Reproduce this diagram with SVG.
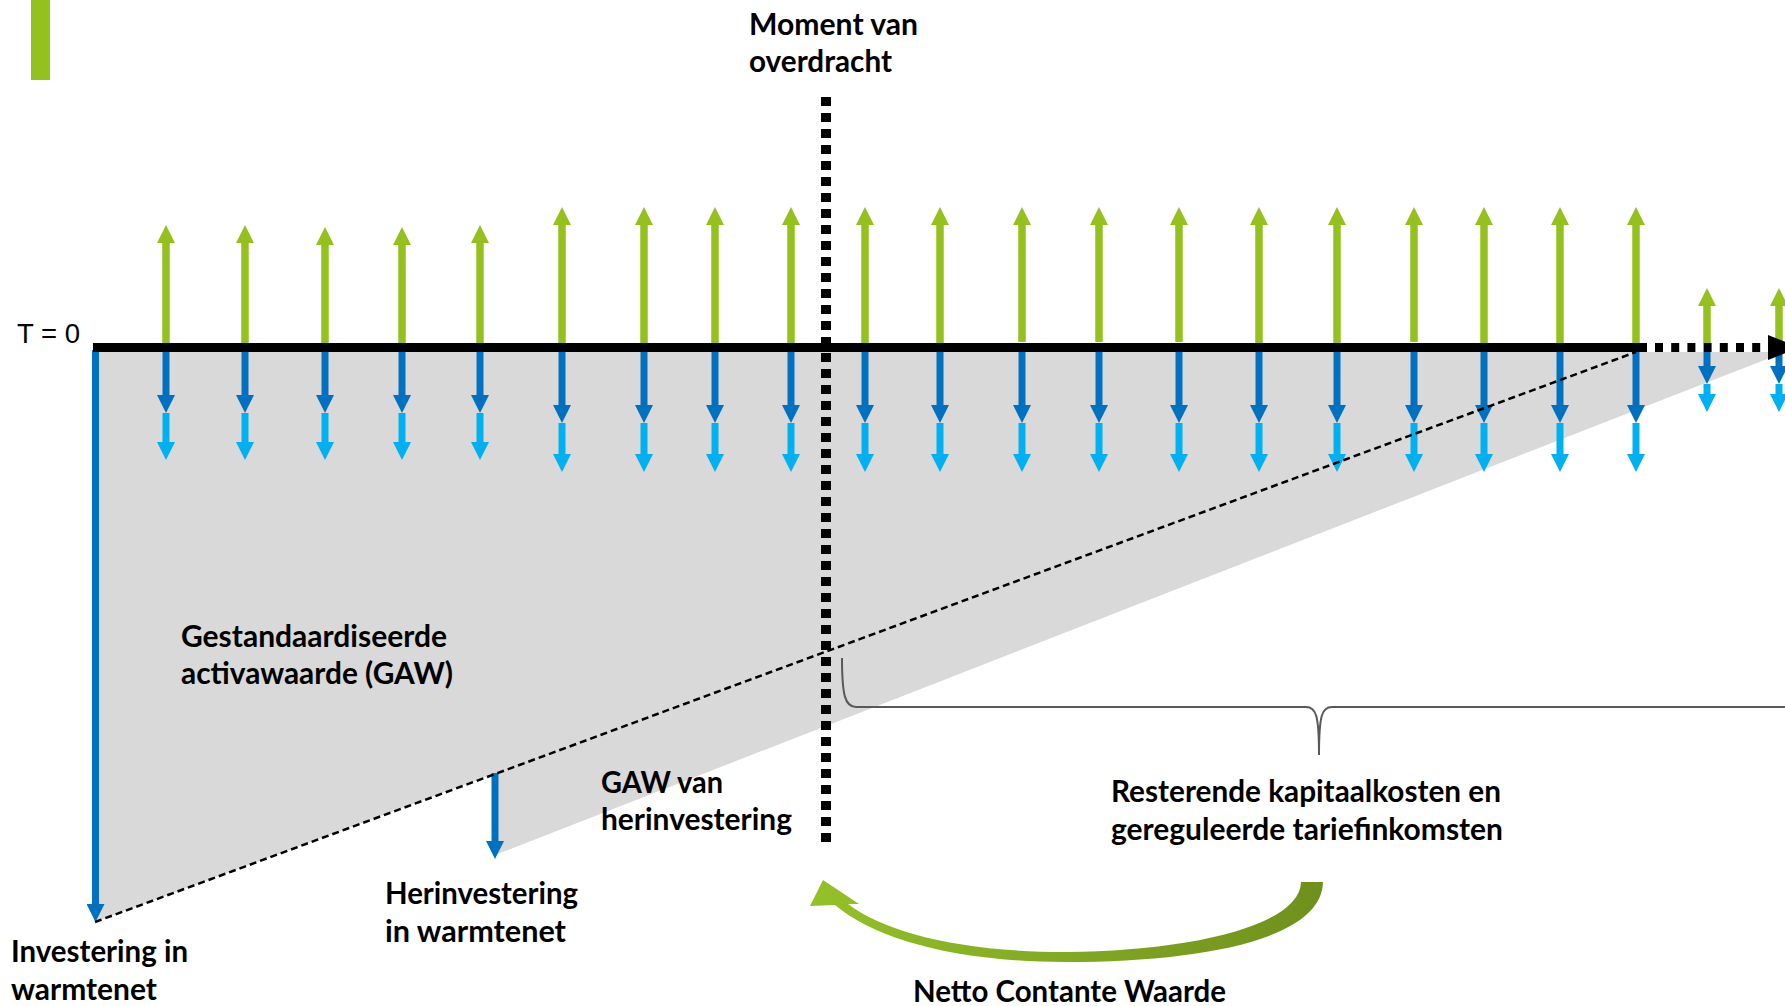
<svg xmlns="http://www.w3.org/2000/svg" width="1785" height="1006" viewBox="0 0 1785 1006">
<style>
.lbl{font-family:Lato,"Liberation Sans",Arial,sans-serif;font-weight:bold;font-size:30px;fill:#000}
.reg{font-family:"Liberation Sans",Arial,sans-serif;font-size:27px;fill:#000}
.g{stroke:#95C11F;stroke-width:7.5;marker-end:url(#hg)}
.d{stroke:#0070C0;stroke-width:7;marker-end:url(#hd)}
.l{stroke:#00B0F0;stroke-width:7;marker-end:url(#hl)}
</style>
<defs>
<marker id="hg" markerUnits="userSpaceOnUse" markerWidth="18" markerHeight="18" refX="0" refY="9" orient="auto" viewBox="0 0 18 18"><path d="M0,0 L18,9 L0,18 Z" fill="#95C11F"/></marker>
<marker id="hd" markerUnits="userSpaceOnUse" markerWidth="18" markerHeight="18" refX="0" refY="9" orient="auto" viewBox="0 0 18 18"><path d="M0,0 L18,9 L0,18 Z" fill="#0070C0"/></marker>
<marker id="hl" markerUnits="userSpaceOnUse" markerWidth="18" markerHeight="18" refX="0" refY="9" orient="auto" viewBox="0 0 18 18"><path d="M0,0 L18,9 L0,18 Z" fill="#00B0F0"/></marker>
<linearGradient id="ga" x1="810" y1="0" x2="1323" y2="0" gradientUnits="userSpaceOnUse">
<stop offset="0" stop-color="#94C127"/>
<stop offset="1" stop-color="#6F901C"/>
</linearGradient>
</defs>
<rect width="1785" height="1006" fill="#fff"/>
<g id="area">
<polygon points="95,352 1785,352 495,855 495,773.6 95,922" fill="#D9D9D9"/>
</g>
<rect id="accent" x="31" y="0" width="19" height="80" fill="#95C11F"/>
<g id="connectors">
<g>
<line class="g" x1="166" y1="343" x2="166" y2="243"/>
<line class="g" x1="245" y1="343" x2="245" y2="243"/>
<line class="g" x1="325" y1="343" x2="325" y2="245"/>
<line class="g" x1="402" y1="343" x2="402" y2="245"/>
<line class="g" x1="480" y1="343" x2="480" y2="243"/>
<line class="g" x1="562" y1="343" x2="562" y2="225"/>
<line class="g" x1="644" y1="343" x2="644" y2="225"/>
<line class="g" x1="715" y1="343" x2="715" y2="225"/>
<line class="g" x1="791" y1="343" x2="791" y2="225"/>
<line class="g" x1="865" y1="343" x2="865" y2="225"/>
<line class="g" x1="940" y1="343" x2="940" y2="225"/>
<line class="g" x1="1022" y1="342" x2="1022" y2="225"/>
<line class="g" x1="1099" y1="342" x2="1099" y2="225"/>
<line class="g" x1="1179" y1="342" x2="1179" y2="225"/>
<line class="g" x1="1259" y1="343" x2="1259" y2="225"/>
<line class="g" x1="1337" y1="343" x2="1337" y2="225"/>
<line class="g" x1="1414" y1="342" x2="1414" y2="225"/>
<line class="g" x1="1484" y1="343" x2="1484" y2="225"/>
<line class="g" x1="1560" y1="343" x2="1560" y2="225"/>
<line class="g" x1="1636" y1="343" x2="1636" y2="225"/>
<line class="g" x1="1707" y1="343" x2="1707" y2="306"/>
<line class="g" x1="1779" y1="343" x2="1779" y2="306"/>
</g>
<g>
<line class="d" x1="166" y1="352" x2="166" y2="395"/>
<line class="d" x1="245" y1="352" x2="245" y2="395"/>
<line class="d" x1="325" y1="352" x2="325" y2="395"/>
<line class="d" x1="402" y1="352" x2="402" y2="395"/>
<line class="d" x1="480" y1="352" x2="480" y2="395"/>
<line class="d" x1="562" y1="352" x2="562" y2="405"/>
<line class="d" x1="644" y1="352" x2="644" y2="405"/>
<line class="d" x1="715" y1="352" x2="715" y2="405"/>
<line class="d" x1="791" y1="352" x2="791" y2="405"/>
<line class="d" x1="865" y1="352" x2="865" y2="405"/>
<line class="d" x1="940" y1="352" x2="940" y2="405"/>
<line class="d" x1="1022" y1="352" x2="1022" y2="405"/>
<line class="d" x1="1099" y1="352" x2="1099" y2="405"/>
<line class="d" x1="1179" y1="352" x2="1179" y2="405"/>
<line class="d" x1="1259" y1="352" x2="1259" y2="405"/>
<line class="d" x1="1337" y1="352" x2="1337" y2="405"/>
<line class="d" x1="1414" y1="352" x2="1414" y2="405"/>
<line class="d" x1="1484" y1="352" x2="1484" y2="405"/>
<line class="d" x1="1560" y1="352" x2="1560" y2="405"/>
<line class="d" x1="1636" y1="352" x2="1636" y2="405"/>
<line class="d" x1="1707" y1="352" x2="1707" y2="366"/>
<line class="d" x1="1779" y1="352" x2="1779" y2="366"/>
</g>
<g>
<line class="l" x1="166" y1="413" x2="166" y2="442"/>
<line class="l" x1="245" y1="413" x2="245" y2="442"/>
<line class="l" x1="325" y1="413" x2="325" y2="442"/>
<line class="l" x1="402" y1="413" x2="402" y2="442"/>
<line class="l" x1="480" y1="413" x2="480" y2="442"/>
<line class="l" x1="562" y1="423" x2="562" y2="454"/>
<line class="l" x1="644" y1="423" x2="644" y2="454"/>
<line class="l" x1="715" y1="423" x2="715" y2="454"/>
<line class="l" x1="791" y1="423" x2="791" y2="454"/>
<line class="l" x1="865" y1="423" x2="865" y2="454"/>
<line class="l" x1="940" y1="423" x2="940" y2="454"/>
<line class="l" x1="1022" y1="423" x2="1022" y2="454"/>
<line class="l" x1="1099" y1="423" x2="1099" y2="454"/>
<line class="l" x1="1179" y1="423" x2="1179" y2="454"/>
<line class="l" x1="1259" y1="423" x2="1259" y2="454"/>
<line class="l" x1="1337" y1="423" x2="1337" y2="454"/>
<line class="l" x1="1414" y1="423" x2="1414" y2="454"/>
<line class="l" x1="1484" y1="423" x2="1484" y2="454"/>
<line class="l" x1="1560" y1="423" x2="1560" y2="454"/>
<line class="l" x1="1636" y1="423" x2="1636" y2="454"/>
<line class="l" x1="1707" y1="384" x2="1707" y2="394"/>
<line class="l" x1="1779" y1="384" x2="1779" y2="394"/>
</g>
<line class="d" x1="95.5" y1="350" x2="95.5" y2="904"/>
<line class="d" x1="495" y1="773" x2="495" y2="841"/>
<line x1="93" y1="347.5" x2="1647" y2="347.5" stroke="#000" stroke-width="9"/>
<line x1="1655" y1="347.5" x2="1768" y2="347.5" stroke="#000" stroke-width="9" stroke-dasharray="8 8.2"/>
<polygon points="1768,335 1799,347.5 1768,360" fill="#000"/>
<line x1="95" y1="922" x2="1636" y2="352" stroke="#000" stroke-width="2.5" stroke-dasharray="7 4"/>
<line x1="826" y1="97" x2="826" y2="843" stroke="#000" stroke-width="10" stroke-dasharray="9 7"/>
<path d="M842 658 C842 695 845 707 856 707 L1306 707 C1316 707 1319 715 1319 755 C1319 715 1322 707 1332 707 L1790 707" fill="none" stroke="#595959" stroke-width="2"/>
<path d="M823 880 L859 904 L848 904 C886 933 962 952 1066 952 C1190 951 1300 926 1301 882 L1323 882 C1322 940 1200 962 1066 962 C956 962 875 939 835 905 L810 906 Z" fill="url(#ga)"/>
</g>
<g id="label-t0"><text class="reg" x="17" y="343" textLength="63" lengthAdjust="spacingAndGlyphs">T = 0</text></g>
<g id="label-moment">
<text class="lbl" x="749" y="35" textLength="169" lengthAdjust="spacingAndGlyphs">Moment van</text>
<text class="lbl" x="749" y="72" textLength="143" lengthAdjust="spacingAndGlyphs">overdracht</text>
</g>
<g id="label-gaw">
<text class="lbl" x="181" y="647" textLength="266" lengthAdjust="spacingAndGlyphs">Gestandaardiseerde</text>
<text class="lbl" x="181" y="684" textLength="272" lengthAdjust="spacingAndGlyphs">activawaarde (GAW)</text>
</g>
<g id="label-gaw-herinv">
<text class="lbl" x="601" y="793" textLength="122" lengthAdjust="spacingAndGlyphs">GAW van</text>
<text class="lbl" x="601" y="830" textLength="191" lengthAdjust="spacingAndGlyphs">herinvestering</text>
</g>
<g id="label-herinv">
<text class="lbl" x="385" y="904" textLength="193" lengthAdjust="spacingAndGlyphs">Herinvestering</text>
<text class="lbl" x="385" y="942" textLength="181" lengthAdjust="spacingAndGlyphs">in warmtenet</text>
</g>
<g id="label-invest">
<text class="lbl" x="11" y="962" textLength="177" lengthAdjust="spacingAndGlyphs">Investering in</text>
<text class="lbl" x="11" y="1000" textLength="146" lengthAdjust="spacingAndGlyphs">warmtenet</text>
</g>
<g id="label-rest">
<text class="lbl" x="1111" y="802" textLength="390" lengthAdjust="spacingAndGlyphs">Resterende kapitaalkosten en</text>
<text class="lbl" x="1111" y="840" textLength="392" lengthAdjust="spacingAndGlyphs">gereguleerde tariefinkomsten</text>
</g>
<g id="label-ncw">
<text class="lbl" x="913" y="1002" textLength="313" lengthAdjust="spacingAndGlyphs">Netto Contante Waarde</text>
</g>
</svg>
